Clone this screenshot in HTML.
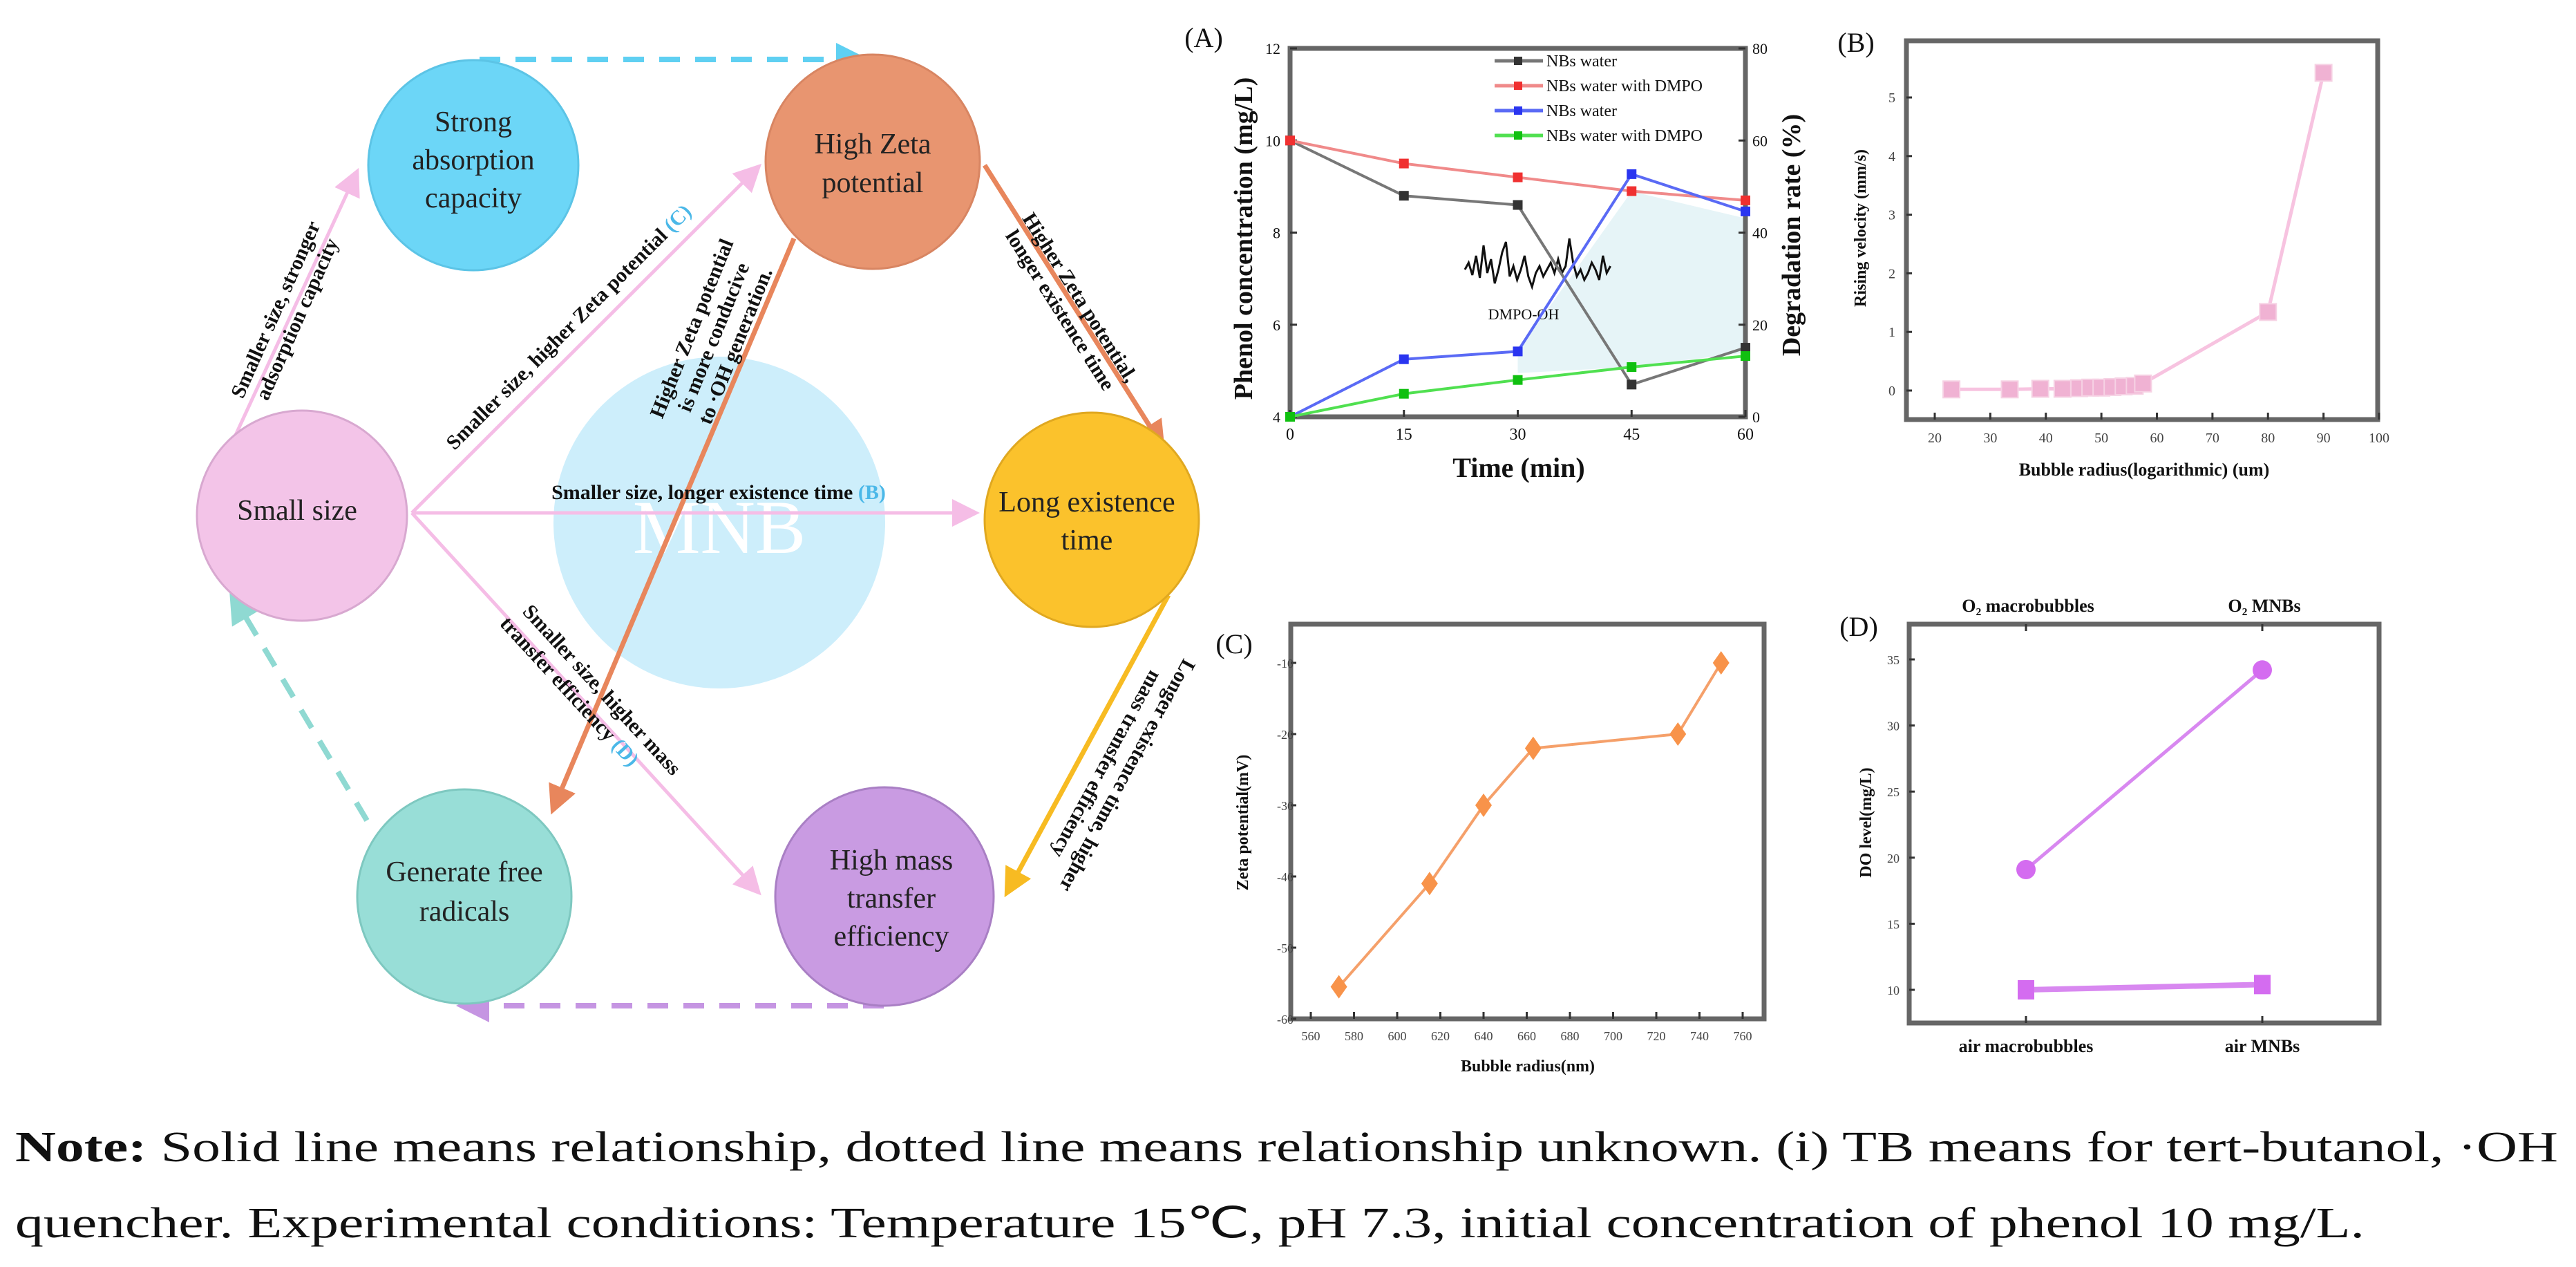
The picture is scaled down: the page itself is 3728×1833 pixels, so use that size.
<!DOCTYPE html>
<html><head><meta charset="utf-8"><style>
html,body{margin:0;padding:0;background:#fff;}
svg{display:block;font-family:"Liberation Serif",serif;}
</style></head><body>
<svg id="fig" width="3728" height="1833" viewBox="0 0 3728 1833" xmlns="http://www.w3.org/2000/svg">
<defs>
<marker id="ahPink" markerWidth="8" markerHeight="8" refX="6" refY="4" orient="auto" markerUnits="strokeWidth"><path d="M0,0 L8,4 L0,8 z" fill="#f5bde6"/></marker>
<marker id="ahOrange" markerWidth="6" markerHeight="6" refX="5" refY="3" orient="auto" markerUnits="strokeWidth"><path d="M0,0 L6,3 L0,6 z" fill="#e8865c"/></marker>
<marker id="ahYellow" markerWidth="6" markerHeight="6" refX="5" refY="3" orient="auto" markerUnits="strokeWidth"><path d="M0,0 L6,3 L0,6 z" fill="#f7bb22"/></marker>
<marker id="ahCyan" markerWidth="6" markerHeight="6" refX="5" refY="3" orient="auto" markerUnits="strokeWidth"><path d="M0,0 L6,3 L0,6 z" fill="#5fd0f2"/></marker>
<marker id="ahTeal" markerWidth="6" markerHeight="6" refX="5" refY="3" orient="auto" markerUnits="strokeWidth"><path d="M0,0 L6,3 L0,6 z" fill="#8fd9d2"/></marker>
<marker id="ahPurple" markerWidth="6" markerHeight="6" refX="5" refY="3" orient="auto" markerUnits="strokeWidth"><path d="M0,0 L6,3 L0,6 z" fill="#c595e2"/></marker>
</defs>

<g>
<circle cx="1041" cy="756" r="240" fill="#cdeefb"/>
<text x="1041" y="800" font-size="110" fill="#ffffff" text-anchor="middle">MNB</text>

<line x1="694" y1="86" x2="1250" y2="86" stroke="#5fd0f2" stroke-width="8" stroke-dasharray="30,22" marker-end="url(#ahCyan)"/>
<line x1="531" y1="1187" x2="336" y2="860" stroke="#8fd9d2" stroke-width="8" stroke-dasharray="30,22" marker-end="url(#ahTeal)"/>
<line x1="1279" y1="1455" x2="668" y2="1455" stroke="#c595e2" stroke-width="8" stroke-dasharray="30,22" marker-end="url(#ahPurple)"/>

<line x1="331" y1="651" x2="515" y2="252" stroke="#f5bde6" stroke-width="5" marker-end="url(#ahPink)"/>
<line x1="596" y1="742" x2="1095" y2="244" stroke="#f5bde6" stroke-width="5" marker-end="url(#ahPink)"/>
<line x1="596" y1="742" x2="1408" y2="742" stroke="#f5bde6" stroke-width="5" marker-end="url(#ahPink)"/>
<line x1="596" y1="742" x2="1095" y2="1288" stroke="#f5bde6" stroke-width="5" marker-end="url(#ahPink)"/>
<line x1="1149" y1="345" x2="800" y2="1172" stroke="#e8865c" stroke-width="7" marker-end="url(#ahOrange)"/>
<line x1="1425" y1="239" x2="1682" y2="645" stroke="#e8865c" stroke-width="7" marker-end="url(#ahOrange)"/>
<line x1="1691" y1="861" x2="1457" y2="1292" stroke="#f7bb22" stroke-width="7" marker-end="url(#ahYellow)"/>

<g font-weight="bold" font-size="30" fill="#111">
<g transform="translate(415,455) rotate(-66)"><text x="0" y="-8" text-anchor="middle">Smaller size, stronger</text><text x="0" y="26" text-anchor="middle">adsorption capacity</text></g>
<g transform="translate(830,480) rotate(-45)"><text x="0" y="0" text-anchor="middle">Smaller size, higher Zeta potential <tspan fill="#4bb8e8">(C)</tspan></text></g>
<text x="1040" y="722" text-anchor="middle">Smaller size, longer existence time <tspan fill="#4bb8e8">(B)</tspan></text>
<g transform="translate(858,1010) rotate(47.5)"><text x="0" y="-8" text-anchor="middle">Smaller size, higher mass</text><text x="-30" y="28" text-anchor="middle">transfer efficiency <tspan fill="#4bb8e8">(D)</tspan></text></g>
<g transform="translate(1038,490) rotate(-68)"><text x="0" y="-30" text-anchor="middle">Higher Zeta potential</text><text x="0" y="4" text-anchor="middle">is more conducive</text><text x="0" y="38" text-anchor="middle">to ·OH generation.</text></g>
<g transform="translate(1548,440) rotate(57.6)"><text x="0" y="-8" text-anchor="middle">Higher Zeta potential,</text><text x="0" y="26" text-anchor="middle">longer existence time</text></g>
<g transform="translate(1600,1105) rotate(-61.4)"><text x="0" y="-26" text-anchor="middle" transform="rotate(180)">Longer existence time, higher</text><text x="0" y="8" text-anchor="middle" transform="rotate(180)">mass transfer efficiency</text></g>
</g>

<g font-size="42" fill="#222" text-anchor="middle">
<circle cx="685" cy="239" r="152" fill="#6cd6f7" stroke="#5cc4e6" stroke-width="3"/>
<text x="685" y="190">Strong</text><text x="685" y="245">absorption</text><text x="685" y="300">capacity</text>
<circle cx="1263" cy="234" r="155" fill="#e89570" stroke="#d88562" stroke-width="3"/>
<text x="1263" y="222">High Zeta</text><text x="1263" y="278">potential</text>
<circle cx="437" cy="746" r="152" fill="#f3c4e8" stroke="#d8a8d0" stroke-width="3"/>
<text x="430" y="752">Small size</text>
<circle cx="1580" cy="752" r="155" fill="#fbc22c" stroke="#e0a820" stroke-width="3"/>
<text x="1573" y="740">Long existence</text><text x="1573" y="795">time</text>
<circle cx="672" cy="1297" r="155" fill="#98ded7" stroke="#7ec8c0" stroke-width="3"/>
<text x="672" y="1275">Generate free</text><text x="672" y="1332">radicals</text>
<circle cx="1280" cy="1297" r="158" fill="#c99be2" stroke="#a97fc4" stroke-width="3"/>
<text x="1290" y="1258">High mass</text><text x="1290" y="1313">transfer</text><text x="1290" y="1368">efficiency</text>
</g>
</g>

<g id="charts"></g>

<g font-size="62" fill="#111">
<text x="22" y="1680" textLength="3680" lengthAdjust="spacingAndGlyphs"><tspan font-weight="bold">Note:</tspan> Solid line means relationship, dotted line means relationship unknown. (i) TB means for tert-butanol, ·OH</text>
<text x="22" y="1790" textLength="3400" lengthAdjust="spacingAndGlyphs">quencher. Experimental conditions: Temperature 15℃, pH 7.3, initial concentration of phenol 10 mg/L.</text>
</g>
</svg>
<script>
// Panel A data
const timeA = [0, 15, 30, 45, 60];
const concNB = [10, 8.8, 8.6, 4.7, 5.5];
const concDMPO = [10, 9.5, 9.2, 8.9, 8.7];
const degNB = [0, 12.5, 14.2, 52.7, 44.6];
const degDMPO = [0, 5, 8, 10.8, 13.2];
const ticksAx = [0, 15, 30, 45, 60];
const ticksAyL = [4, 6, 8, 10, 12];
const ticksAyR = [0, 20, 40, 60, 80];
// Panel B data
const radiusB = [23, 33.5, 39, 43, 46, 48, 50, 52, 54, 56, 57.5, 80, 90];
const velB = [0.02, 0.02, 0.03, 0.03, 0.04, 0.05, 0.05, 0.06, 0.07, 0.08, 0.12, 1.34, 5.42];
const ticksBx = [20, 30, 40, 50, 60, 70, 80, 90, 100];
const ticksBy = [0, 1, 2, 3, 4, 5];
// Panel C data
const radiusC = [573, 615, 640, 663, 730, 750];
const zetaC = [-55.5, -41, -30, -22, -20, -10];
const ticksCx = [560, 580, 600, 620, 640, 660, 680, 700, 720, 740, 760];
const ticksCy = [-60, -50, -40, -30, -20, -10];
// Panel D data
const catsD = ["air macrobubbles", "air MNBs"];
const catsDTop = ["O₂ macrobubbles", "O₂ MNBs"];
const doO2 = [19.1, 34.2];
const doAir = [10, 10.4];
const ticksDy = [10, 15, 20, 25, 30, 35];

const NS = "http://www.w3.org/2000/svg";
const root = document.getElementById("charts");
function mk(tag, attrs, parent, txt) {
  const e = document.createElementNS(NS, tag);
  for (const k in attrs) e.setAttribute(k, attrs[k]);
  if (txt !== undefined) e.textContent = txt;
  (parent || root).appendChild(e);
  return e;
}
function lin(d0, d1, r0, r1) { return v => r0 + (v - d0) / (d1 - d0) * (r1 - r0); }
function frame(g, x0, y0, x1, y1) {
  const r = mk("rect", {x: x0, y: y0, width: x1 - x0, height: y1 - y0, fill: "none", stroke: "#666", "stroke-width": 7}, g);
  
  
}
function polyline(g, pts, color, w, name) {
  const p = mk("polyline", {points: pts.map(q => q.join(",")).join(" "), fill: "none", stroke: color, "stroke-width": w}, g);
  
  
  return p;
}
function txt(g, x, y, s, size, name, extra) {
  const a = Object.assign({x: x, y: y, "font-size": size, "text-anchor": "middle", fill: "#111"}, extra || {});
  const t = mk("text", a, g, s);
  
  
  return t;
}

// ---------- Panel A ----------
(function () {
  const g = mk("g", {});  
  const X0 = 1867, X1 = 2526, Y0 = 70, Y1 = 603;
  const x = lin(0, 60, X0, X1), yL = lin(4, 12, Y1, Y0), yR = lin(0, 80, Y1, Y0);
  const sh = [[x(timeA[2]), yR(degNB[2])], [x(timeA[3]), yR(degNB[3]) + 25], [x(timeA[4]), yR(degNB[4]) + 10], [x(timeA[4]), yR(degDMPO[4]) - 5], [x(timeA[3]), yR(degDMPO[3])], [x(timeA[2]), yR(degDMPO[2]) - 10]];
  const poly = mk("polygon", {points: sh.map(q => q.join(",")).join(" "), fill: "#e6f4f7"}, g);
   
  const spec = [0, -10, 8, -20, 12, -35, 5, -15, 20, 0, -25, -40, 10, -5, 15, 0, -20, 10, 25, 5, -5, 10, 0, -10, 5, -15, 5, -5, -45, -10, 10, 0, 15, 5, -10, 0, 15, -20, 5, -5];
  const sp = spec.map((v, i) => [2120 + i * 5.4, 390 + v]);
  polyline(g, sp, "#111", 3, "dmpo-oh-spectrum");
  txt(g, 2205, 462, "DMPO-OH", 22, "dmpo-oh-label");
  frame(g, X0, Y0, X1, Y1);
  ticksAx.forEach(v => { mk("line", {x1: x(v), x2: x(v), y1: Y1, y2: Y1 - 10, stroke: "#333", "stroke-width": 3}, g); txt(g, x(v), 636, String(v), 24, "x-tick-label-a"); });
  ticksAyL.forEach(v => { mk("line", {x1: X0, x2: X0 + 10, y1: yL(v), y2: yL(v), stroke: "#333", "stroke-width": 3}, g); txt(g, X0 - 14, yL(v) + 8, String(v), 22, "y-left-tick-label-a", {"text-anchor": "end"}); });
  ticksAyR.forEach(v => { mk("line", {x1: X1, x2: X1 - 10, y1: yR(v), y2: yR(v), stroke: "#333", "stroke-width": 3}, g); txt(g, X1 + 10, yR(v) + 8, String(v), 22, "y-right-tick-label-a", {"text-anchor": "start"}); });
  const series = [
    [concNB, yL, "#777777", "#333", "series-nbs-water-conc"],
    [concDMPO, yL, "#f08a8a", "#f03030", "series-nbs-dmpo-conc"],
    [degNB, yR, "#5a6af5", "#2a35f0", "series-nbs-water-deg"],
    [degDMPO, yR, "#50e050", "#10c010", "series-nbs-dmpo-deg"]];
  series.forEach(s => {
    const pts = timeA.map((t, i) => [x(t), s[1](s[0][i])]);
    polyline(g, pts, s[2], 4, s[4]);
    pts.forEach(p => { const m = mk("rect", {x: p[0] - 7, y: p[1] - 7, width: 14, height: 14, fill: s[3]}, g);   });
  });
  const leg = [["NBs water", "#777", "#333"], ["NBs water with DMPO", "#f08a8a", "#f03030"], ["NBs water", "#5a6af5", "#2a35f0"], ["NBs water with DMPO", "#50e050", "#10c010"]];
  leg.forEach((l, i) => {
    const y = 88 + i * 36;
    mk("line", {x1: 2163, x2: 2233, y1: y, y2: y, stroke: l[1], "stroke-width": 5}, g);
    mk("rect", {x: 2191, y: y - 6, width: 12, height: 12, fill: l[2]}, g);
    txt(g, 2238, y + 8, l[0], 24, "legend-entry", {"text-anchor": "start"});
  });
  txt(g, 1742, 68, "(A)", 40, "panel-a-label");
  txt(g, 0, 0, "Phenol concentration (mg/L)", 38, "y-axis-title-a", {"font-weight": "bold", transform: "translate(1812,345) rotate(-90)"});
  txt(g, 0, 0, "Degradation rate (%)", 38, "y-axis-title-a-right", {"font-weight": "bold", transform: "translate(2605,340) rotate(-90)"});
  txt(g, 2198, 690, "Time (min)", 40, "x-axis-title-a", {"font-weight": "bold"});
})();

// ---------- Panel B ----------
(function () {
  const g = mk("g", {});  
  const X0 = 2759, X1 = 3441, Y0 = 59, Y1 = 607;
  const x = lin(20, 100, 2800, 3443), y = lin(0, 5, 565, 141);
  frame(g, X0, Y0, X1, Y1);
  ticksBx.forEach(v => { mk("line", {x1: x(v), x2: x(v), y1: Y1, y2: Y1 - 10, stroke: "#333", "stroke-width": 3}, g); txt(g, x(v), 640, String(v), 20, "x-tick-label-b", {fill: "#444"}); });
  ticksBy.forEach(v => { mk("line", {x1: X0, x2: X0 + 8, y1: y(v), y2: y(v), stroke: "#333", "stroke-width": 3}, g); txt(g, X0 - 16, y(v) + 7, String(v), 20, "y-tick-label-b", {"text-anchor": "end", fill: "#444"}); });
  const pts = radiusB.map((r, i) => [x(r), y(velB[i])]);
  polyline(g, pts, "#f7c3e0", 5, "series-rising-velocity");
  pts.forEach(p => { const m = mk("rect", {x: p[0] - 12, y: p[1] - 12, width: 24, height: 24, fill: "#f0b2d3", stroke: "#f6d2e4", "stroke-width": 2}, g);   });
  txt(g, 2686, 75, "(B)", 40, "panel-b-label");
  txt(g, 0, 0, "Rising velocity (mm/s)", 24, "y-axis-title-b", {"font-weight": "bold", transform: "translate(2700,330) rotate(-90)"});
  txt(g, 3103, 688, "Bubble radius(logarithmic) (um)", 26, "x-axis-title-b", {"font-weight": "bold"});
})();

// ---------- Panel C ----------
(function () {
  const g = mk("g", {});  
  const X0 = 1868, X1 = 2553, Y0 = 903, Y1 = 1474;
  const x = lin(560, 760, 1897, 2522), y = lin(-60, -10, 1474, 959);
  frame(g, X0, Y0, X1, Y1);
  ticksCx.forEach(v => { mk("line", {x1: x(v), x2: x(v), y1: Y1, y2: Y1 - 10, stroke: "#333", "stroke-width": 3}, g); txt(g, x(v), 1505, String(v), 18, "x-tick-label-c", {fill: "#444"}); });
  ticksCy.forEach(v => { mk("line", {x1: X0, x2: X0 + 8, y1: y(v), y2: y(v), stroke: "#333", "stroke-width": 3}, g); txt(g, X0 + 4, y(v) + 7, String(v), 18, "y-tick-label-c", {"text-anchor": "end", fill: "#444"}); });
  const pts = radiusC.map((r, i) => [x(r), y(zetaC[i])]);
  polyline(g, pts, "#f5a06a", 4, "series-zeta-potential");
  pts.forEach(p => { const m = mk("polygon", {points: `${p[0]},${p[1] - 17} ${p[0] + 12},${p[1]} ${p[0]},${p[1] + 17} ${p[0] - 12},${p[1]}`, fill: "#f8934a"}, g);   });
  txt(g, 1786, 945, "(C)", 40, "panel-c-label");
  txt(g, 0, 0, "Zeta potential(mV)", 24, "y-axis-title-c", {"font-weight": "bold", transform: "translate(1806,1190) rotate(-90)"});
  txt(g, 2211, 1550, "Bubble radius(nm)", 24, "x-axis-title-c", {"font-weight": "bold"});
})();

// ---------- Panel D ----------
(function () {
  const g = mk("g", {});  
  const X0 = 2763, X1 = 3443, Y0 = 903, Y1 = 1480;
  const xc = [2932, 3274];
  const y = lin(10, 35, 1432, 954);
  frame(g, X0, Y0, X1, Y1);
  xc.forEach((xx, i) => {
    mk("line", {x1: xx, x2: xx, y1: Y1, y2: Y1 - 10, stroke: "#333", "stroke-width": 3}, g);
    mk("line", {x1: xx, x2: xx, y1: Y0, y2: Y0 + 10, stroke: "#333", "stroke-width": 3}, g);
    txt(g, xx, 1522, catsD[i], 26, "x-category-label-d", {"font-weight": "bold"});
    txt(g, xx + 3, 885, catsDTop[i], 26, "x-top-category-label-d", {"font-weight": "bold"});
  });
  ticksDy.forEach(v => { mk("line", {x1: X0, x2: X0 + 8, y1: y(v), y2: y(v), stroke: "#333", "stroke-width": 3}, g); txt(g, X0 - 14, y(v) + 7, String(v), 18, "y-tick-label-d", {"text-anchor": "end", fill: "#444"}); });
  const o2 = xc.map((xx, i) => [xx, y(doO2[i])]);
  const air = xc.map((xx, i) => [xx, y(doAir[i])]);
  polyline(g, o2, "#d888f0", 5, "series-o2");
  polyline(g, air, "#d888f0", 8, "series-air");
  o2.forEach(p => { const m = mk("circle", {cx: p[0], cy: p[1], r: 14, fill: "#d46cf0"}, g);   });
  air.forEach(p => { const m = mk("rect", {x: p[0] - 12, y: p[1] - 14, width: 24, height: 28, fill: "#d46cf0"}, g);   });
  txt(g, 2690, 920, "(D)", 40, "panel-d-label");
  txt(g, 0, 0, "DO level(mg/L)", 24, "y-axis-title-d", {"font-weight": "bold", transform: "translate(2708,1190) rotate(-90)"});
})();
</script>
</body></html>
